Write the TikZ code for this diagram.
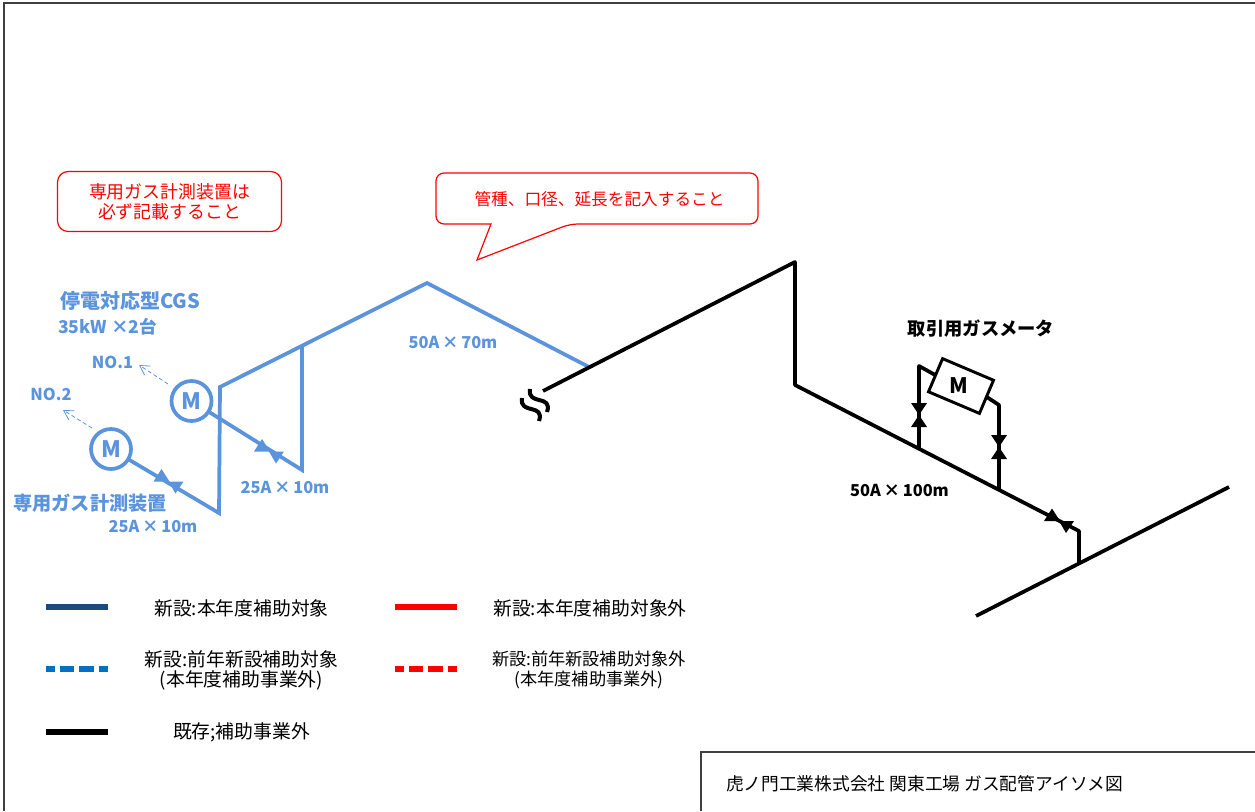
\documentclass[tikz,border=0pt]{standalone}
\usepackage{fontspec}
\setmainfont{Noto Sans CJK JP}
\usetikzlibrary{arrows.meta,positioning,calc}

\definecolor{pipeblue}{HTML}{5B94DC}
\definecolor{legnavy}{HTML}{1F497D}
\definecolor{legblue}{HTML}{0070C0}
\tikzset{
    every node/.style={inner sep=0pt, outer sep=0pt, align=center},
    newpipe/.style={draw=pipeblue, line width=2.8pt},
    oldpipe/.style={draw=black, line width=2.8pt, line join=round},
    legline/.style={line width=3.8pt},
    legdash/.style={line width=3.8pt, dash pattern=on 10.7pt off 4pt, dash phase=4.3pt},
    legtext/.style={font=\fontsize{14.1}{15}\selectfont},
    bluetext/.style={text=pipeblue, font=\fontsize{12.3}{13}\selectfont\bfseries},
    bluehead/.style={text=pipeblue, font=\fontsize{15}{16}\selectfont\bfseries},
    rednote/.style={text=red, font=\fontsize{12.5}{15}\selectfont},
    redbox/.style={draw=red, line width=0.9pt, rounded corners=8pt, text=red, font=\fontsize{13.4}{15}\selectfont},
    meter/.style={circle, draw=pipeblue, line width=2.8pt, fill=white, minimum size=30pt, text=pipeblue, font=\fontsize{17}{17}\selectfont\bfseries},
    leader/.style={draw=pipeblue, line width=0.6pt, densely dashed, -{Straight Barb[length=7pt,width=8pt]}},
}
% valve on a slanted pipe, two triangles side by side
\newcommand{\valveslant}[3]{
    \fill[#3] (#1-15,#2) -- (#1-7,#2-12.5) -- (#1+1,#2) -- cycle;
    \fill[#3] (#1,#2) -- (#1+7,#2+12) -- (#1+15,#2) -- cycle;
}
% valve on a vertical pipe
\newcommand{\valveup}[3]{
    \fill[#3] (#1-8,#2-12) -- (#1+8,#2-12) -- (#1,#2) -- cycle;
    \fill[#3] (#1-8,#2+12) -- (#1+8,#2+12) -- (#1,#2) -- cycle;
}

\begin{document}
\begin{tikzpicture}[x=0.75pt, y=-0.75pt]
    \useasboundingbox (0,0) rectangle (1255,811);
    \draw[line width=0.9pt, draw=black!75] (4,811) -- (4,3) -- (1255,3);

    % notes
    \node[redbox, minimum width=168pt, minimum height=45pt] (noteA) at (169.5,201.5) {専用ガス計測装置は\\必ず記載すること};
    \coordinate (tipB) at (477,260);
    \draw[draw=red, line width=0.9pt, rounded corners=6pt]
        (491,224) -- (436,224) -- (436,173) -- (758,173) -- (758,224) -- (570,224) [sharp corners] -- (tipB) -- cycle;
    \node[rednote] (noteB) at (599.5,199) {管種、口径、延長を記入すること};

    % new pipes
    \coordinate (a1) at (219,513);
    \coordinate (a2) at (220,387);
    \coordinate (a3) at (427,283);
    \coordinate (a4) at (589,367);
    \coordinate (a5) at (302,347);
    \coordinate (a6) at (302,470);
    \node[meter] (m2) at (111,449) {M};
    \node[meter] (m1) at (191.5,401) {M};
    \draw[newpipe] (m2) -- (a1) -- (a2) -- (a3) -- (a4);
    \draw[newpipe] (m1) -- (a6) -- (a5);
    \valveslant{168.5}{481.5}{pipeblue}
    \valveslant{269}{451.5}{pipeblue}

    \node[bluehead] (cgs) at (130,301) {停電対応型CGS};
    \node[bluetext, font=\fontsize{13.2}{14}\selectfont\bfseries] (kw) at (107.5,327) {35kW ×2台};
    \node[bluetext] (no1) at (112.5,362) {NO.1};
    \node[bluetext] (no2) at (51,394) {NO.2};
    \node[bluehead, font=\fontsize{14.4}{15}\selectfont\bfseries] (dedic) at (90,503) {専用ガス計測装置};
    \node[bluetext] (lenA) at (153,526) {25A\,×\,10m};
    \node[bluetext] (lenB) at (285,487) {25A\,×\,10m};
    \node[bluetext] (lenC) at (453,342) {50A\,×\,70m};
    \coordinate (no1from) at (168,384);
    \coordinate (no1tip) at (139,365);
    \coordinate (no2from) at (92,428);
    \coordinate (no2tip) at (63,410);
    \draw[leader] (no1from) -- (no1tip);
    \draw[leader] (no2from) -- (no2tip);

    % existing pipes
    \coordinate (b1) at (543,391);
    \coordinate (b2) at (795,262);
    \coordinate (b3) at (795,385);
    \coordinate (b4) at (1079,531);
    \coordinate (b5) at (1079,563);
    \coordinate (c1) at (976,616);
    \coordinate (c2) at (1229,487);
    \coordinate (t1) at (919,448);
    \coordinate (t2) at (919,366);
    \coordinate (t3) at (999,489);
    \coordinate (t4) at (999,405);
    \draw[oldpipe] (b1) -- (b2) -- (b3) -- (b4) -- (b5);
    \draw[oldpipe] (c1) -- (c2);
    \node[rotate=-23, draw=black, line width=2.2pt, fill=white, minimum width=41.5pt, minimum height=27pt] (gasmeter) at (961,386) {};
    \node[font=\fontsize{16}{16}\selectfont\bfseries] (gasm) at (958.5,386) {M};
    \draw[oldpipe] (t1) -- (t2) -- (gasmeter.west);
    \draw[oldpipe] (t3) -- (t4) -- (gasmeter.east);
    \valveup{919}{415}{black}
    \valveup{999}{447}{black}
    \valveslant{1059}{521}{black}
    \node[font=\fontsize{13.7}{14}\selectfont\bfseries] (gaslabel) at (981,329) {取引用ガスメータ};
    \node[font=\fontsize{12.3}{13}\selectfont\bfseries] (lenD) at (899.5,490) {50A\,×\,100m};
    % pipe break
    \draw[black, line width=3pt] (530,389) .. controls (527,406) and (553,394) .. (547,412);
    \draw[black, line width=3pt] (522,398) .. controls (519,415) and (545,403) .. (539,421);

    % legend
    \draw[legline, draw=legnavy] (46,607) -- (108,607);
    \draw[legdash, draw=legblue] (46,669) -- (108,669);
    \draw[legline, draw=black] (46,732) -- (108,732);
    \draw[legline, draw=red] (395,607) -- (457,607);
    \draw[legdash, draw=red] (395,669) -- (457,669);
    \node[legtext] (leg1) at (241.5,608) {新設:本年度補助対象};
    \node[legtext] (leg2) at (241.5,670) {新設:前年新設補助対象\\(本年度補助事業外)};
    \node[legtext] (leg3) at (241.5,732) {既存;補助事業外};
    \node[legtext] (leg4) at (590,608) {新設:本年度補助対象外};
    \node[font=\fontsize{12.9}{14.6}\selectfont] (leg5) at (589,670) {新設:前年新設補助対象外\\(本年度補助事業外)};

    % title block
    \draw[line width=0.9pt, draw=black!75] (701,811) -- (701,752) -- (1255,752);
    \node[anchor=west, font=\fontsize{13.3}{14}\selectfont] (drawname) at (726,784) {虎ノ門工業株式会社 関東工場 ガス配管アイソメ図};
\end{tikzpicture}
\end{document}
